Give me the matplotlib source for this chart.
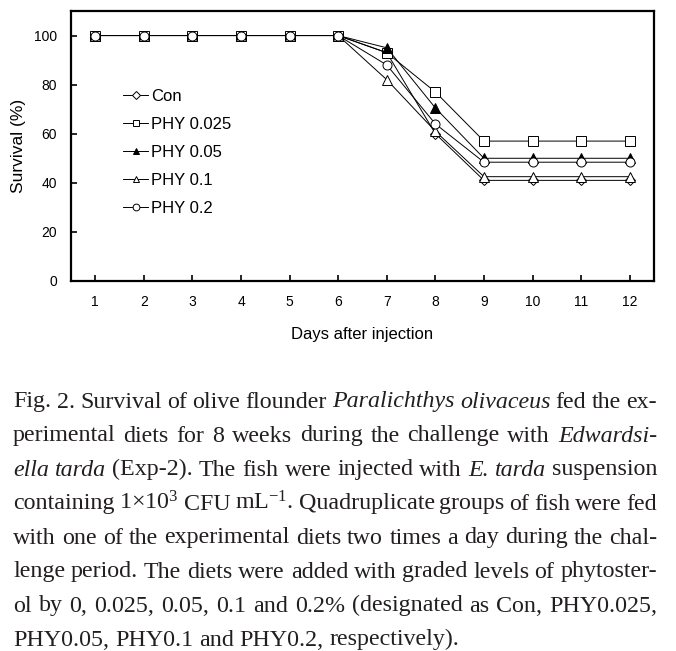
import matplotlib
matplotlib.use("Agg")
import matplotlib.pyplot as plt

plt.rcParams['font.family'] = ['Liberation Sans', 'DejaVu Sans']
plt.rcParams['mathtext.fontset'] = 'custom'
plt.rcParams['mathtext.rm'] = 'Liberation Serif'
plt.rcParams['mathtext.it'] = 'Liberation Serif:italic'

# ---- data ----
days = [1, 2, 3, 4, 5, 6, 7, 8, 9, 10, 11, 12]
con = [100, 100, 100, 100, 100, 100, 93, 60, 41, 41, 41, 41]
phy_0025 = [100, 100, 100, 100, 100, 100, 93, 77, 57, 57, 57, 57]
phy_005 = [100, 100, 100, 100, 100, 100, 95, 70.5, 50, 50, 50, 50]
phy_01 = [100, 100, 100, 100, 100, 100, 82, 61, 42.5, 42.5, 42.5, 42.5]
phy_02 = [100, 100, 100, 100, 100, 100, 88, 64, 48.4, 48.4, 48.4, 48.4]
series_labels = ['Con', 'PHY 0.025', 'PHY 0.05', 'PHY 0.1', 'PHY 0.2']
yticks = [0, 20, 40, 60, 80, 100]

caption_lines = [
    "Fig. 2. Survival of olive flounder _Paralichthys_ _olivaceus_ fed the ex-",
    "perimental diets for 8 weeks during the challenge with _Edwardsi-_",
    "_ella_ _tarda_ (Exp-2). The fish were injected with _E._ _tarda_ suspension",
    "containing 1\u00d710$^{3}$ CFU mL$^{-1}$. Quadruplicate groups of fish were fed",
    "with one of the experimental diets two times a day during the chal-",
    "lenge period. The diets were added with graded levels of phytoster-",
    "ol by 0, 0.025, 0.05, 0.1 and 0.2% (designated as Con, PHY0.025,",
    "PHY0.05, PHY0.1 and PHY0.2, respectively).",
]

W, H = 676, 651
fig = plt.figure(figsize=(W / 100, H / 100), dpi=100)
ax = fig.add_axes([71 / W, 1 - 281 / H, (654 - 71) / W, (281 - 11) / H])

series = [con, phy_0025, phy_005, phy_01, phy_02]
markers = ['D', 's', '^', '^', 'o']
faces = ['white', 'white', 'black', 'white', 'white']
msizes = [5.0, 6.5, 6.5, 6.5, 6.5]
for vals, lab, m, fc, ms in zip(series, series_labels, markers, faces, msizes):
    ax.plot(days, vals, color='black', lw=0.7, marker=m, ms=ms,
            mfc=fc, mec='black', mew=0.7, label=lab)

ax.set_xlim(0.5, 12.5)
ax.set_ylim(0, 110)
ax.set_xticks(days)
ax.set_yticks(yticks)
ax.tick_params(direction='in', length=4, width=1.2, labelsize=10, pad=10)
for s in ax.spines.values():
    s.set_linewidth(1.6)
ax.set_xlabel('Days after injection', fontsize=12, labelpad=13)
ax.set_ylabel('Survival (%)', fontsize=12.5, labelpad=6)

leg = ax.legend(loc='upper left', bbox_to_anchor=(0.09, 0.71), frameon=False,
                fontsize=12, handlelength=1.5, handletextpad=0.15,
                labelspacing=0.78, borderpad=0, borderaxespad=0, markerscale=0.75)

# ---- caption (justified) ----
renderer = fig.canvas.get_renderer()
left_px, right_px = 13, 657
base0, step = 407.5, 34.0
size = 16.0

def tokens(line):
    out = []
    for w in line.split(' '):
        if len(w) > 2 and w.startswith('_') and w.endswith('_'):
            out.append((w[1:-1], 'italic'))
        else:
            out.append((w, 'normal'))
    return out

def width(s, style, fs):
    t = fig.text(0, 0, s, fontsize=fs, family='Liberation Serif', style=style)
    w = t.get_window_extent(renderer).width
    t.remove()
    return w

space_w = width('a a', 'normal', size) - width('aa', 'normal', size)
parsed = [tokens(l) for l in caption_lines]
wid = [[width(s, st, size) for s, st in toks] for toks in parsed]
# choose font size so the tightest justified line has about 0.8 natural space
scale = 10.0
for ws in wid[:-1]:
    need = sum(ws) + 0.8 * space_w * (len(ws) - 1)
    scale = min(scale, (right_px - left_px) / need)
fs = size * scale
space_w *= scale
wid = [[w * scale for w in ws] for ws in wid]

for i, (toks, ws) in enumerate(zip(parsed, wid)):
    y = 1 - (base0 + i * step) / H
    if i == len(parsed) - 1:
        gap = space_w
    else:
        gap = (right_px - left_px - sum(ws)) / (len(ws) - 1)
    x = left_px
    for (s, st), w in zip(toks, ws):
        fig.text(x / W, y, s, fontsize=fs, family='Liberation Serif', style=st,
                 va='baseline', ha='left', color='#231f20')
        x += w + gap

fig.savefig('out.png', dpi=100)
